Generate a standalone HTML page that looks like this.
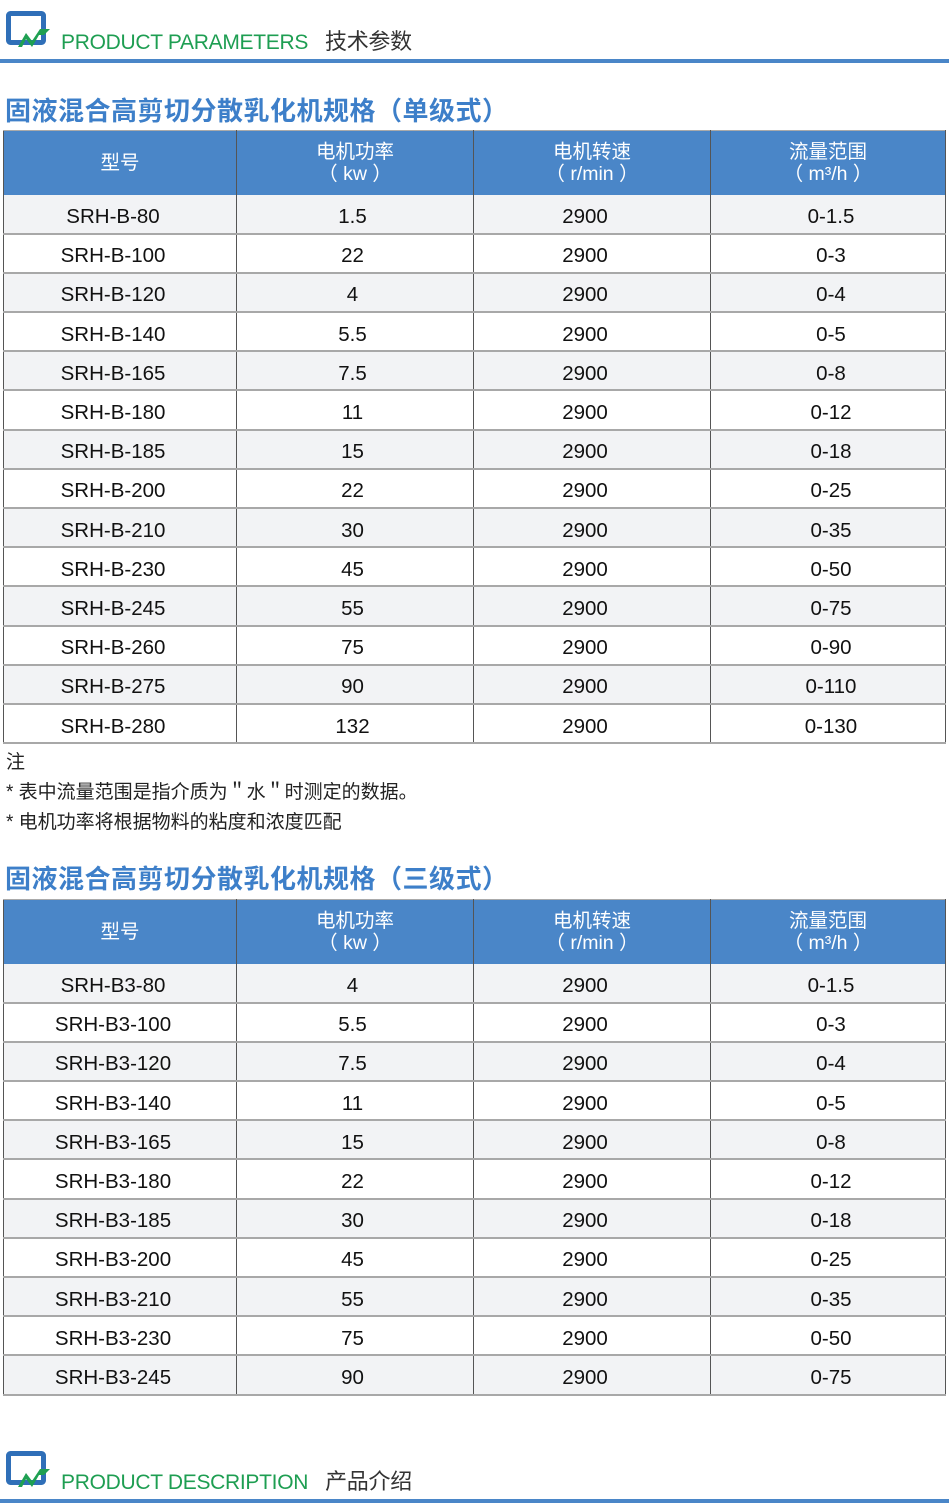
<!DOCTYPE html>
<html><head><meta charset="utf-8"><style>
*{margin:0;padding:0;box-sizing:border-box}
body{width:949px;height:1504px;background:#fff;position:relative;overflow:hidden;font-family:"Liberation Sans","Noto Sans CJK SC",sans-serif;color:#222}
.hd{position:absolute;left:0;width:949px}
.hd .txt{position:absolute;left:61px;font-size:21px;color:#1e9e52;white-space:nowrap;letter-spacing:-0.3px}
.hd .txt span{color:#333;margin-left:17px;font-size:22px}
.hd .line{position:absolute;left:0;width:949px;height:4px;background:#4a86c8}
.title{position:absolute;left:5px;font-size:26px;font-weight:bold;color:#3d7fc9;white-space:nowrap;letter-spacing:0.5px}
table{position:absolute;left:3px;width:942px;border-collapse:collapse;table-layout:fixed}
td,th{text-align:center;font-size:20.5px;border-left:1px solid #555;border-right:1px solid #555}
th{background:#4a86c8;color:#fff;font-weight:normal;font-size:19.5px;line-height:22px;height:64px;border-top:1px solid #aaa}
td{height:39.2px;border-bottom:2px solid #a8a8a8;color:#111;padding-top:6px}
td:first-child{padding-right:14px}
td:nth-child(2){padding-right:5px}
td:nth-child(3){padding-right:14px}
td:nth-child(4){padding-left:6px}
tr:nth-child(even) td{background:#f2f3f5}
.note{position:absolute;left:6px;font-size:19px;line-height:30px;color:#222}
</style></head><body>
<svg style="position:absolute;left:6px;top:11px" width="44" height="38" viewBox="0 0 44 38"><rect x="2.5" y="2.5" width="35" height="29" rx="2" fill="none" stroke="#2f6fb8" stroke-width="5"/><path d="M12 36 L20 22 L26 30 L34 18 L44 18 L38 24 L33 24 L26 36 L20 28 L16 36Z" fill="#1fa052"/></svg>
<div class="hd" style="top:0"><div class="txt" style="top:24px">PRODUCT PARAMETERS<span>技术参数</span></div><div class="line" style="top:59px"></div></div>
<div class="title" style="top:91px">固液混合高剪切分散乳化机规格（单级式）</div>
<table style="top:130px">
<colgroup><col style="width:233px"><col style="width:237px"><col style="width:237px"><col style="width:235px"></colgroup>
<tr><th>型号</th><th>电机功率<br>（ kw ）</th><th>电机转速<br>（ r/min ）</th><th>流量范围<br>（ m³/h ）</th></tr>
<tr><td>SRH-B-80</td><td>1.5</td><td>2900</td><td>0-1.5</td></tr>
<tr><td>SRH-B-100</td><td>22</td><td>2900</td><td>0-3</td></tr>
<tr><td>SRH-B-120</td><td>4</td><td>2900</td><td>0-4</td></tr>
<tr><td>SRH-B-140</td><td>5.5</td><td>2900</td><td>0-5</td></tr>
<tr><td>SRH-B-165</td><td>7.5</td><td>2900</td><td>0-8</td></tr>
<tr><td>SRH-B-180</td><td>11</td><td>2900</td><td>0-12</td></tr>
<tr><td>SRH-B-185</td><td>15</td><td>2900</td><td>0-18</td></tr>
<tr><td>SRH-B-200</td><td>22</td><td>2900</td><td>0-25</td></tr>
<tr><td>SRH-B-210</td><td>30</td><td>2900</td><td>0-35</td></tr>
<tr><td>SRH-B-230</td><td>45</td><td>2900</td><td>0-50</td></tr>
<tr><td>SRH-B-245</td><td>55</td><td>2900</td><td>0-75</td></tr>
<tr><td>SRH-B-260</td><td>75</td><td>2900</td><td>0-90</td></tr>
<tr><td>SRH-B-275</td><td>90</td><td>2900</td><td>0-110</td></tr>
<tr><td>SRH-B-280</td><td>132</td><td>2900</td><td>0-130</td></tr>
</table>
<div class="note" style="top:748px">注<br>* 表中流量范围是指介质为＂水＂时测定的数据。<br>* 电机功率将根据物料的粘度和浓度匹配</div>
<div class="title" style="top:859px">固液混合高剪切分散乳化机规格（三级式）</div>
<table style="top:899px">
<colgroup><col style="width:233px"><col style="width:237px"><col style="width:237px"><col style="width:235px"></colgroup>
<tr><th>型号</th><th>电机功率<br>（ kw ）</th><th>电机转速<br>（ r/min ）</th><th>流量范围<br>（ m³/h ）</th></tr>
<tr><td>SRH-B3-80</td><td>4</td><td>2900</td><td>0-1.5</td></tr>
<tr><td>SRH-B3-100</td><td>5.5</td><td>2900</td><td>0-3</td></tr>
<tr><td>SRH-B3-120</td><td>7.5</td><td>2900</td><td>0-4</td></tr>
<tr><td>SRH-B3-140</td><td>11</td><td>2900</td><td>0-5</td></tr>
<tr><td>SRH-B3-165</td><td>15</td><td>2900</td><td>0-8</td></tr>
<tr><td>SRH-B3-180</td><td>22</td><td>2900</td><td>0-12</td></tr>
<tr><td>SRH-B3-185</td><td>30</td><td>2900</td><td>0-18</td></tr>
<tr><td>SRH-B3-200</td><td>45</td><td>2900</td><td>0-25</td></tr>
<tr><td>SRH-B3-210</td><td>55</td><td>2900</td><td>0-35</td></tr>
<tr><td>SRH-B3-230</td><td>75</td><td>2900</td><td>0-50</td></tr>
<tr><td>SRH-B3-245</td><td>90</td><td>2900</td><td>0-75</td></tr>
</table>
<svg style="position:absolute;left:6px;top:1451px" width="44" height="38" viewBox="0 0 44 38"><rect x="2.5" y="2.5" width="35" height="29" rx="2" fill="none" stroke="#2f6fb8" stroke-width="5"/><path d="M12 36 L20 22 L26 30 L34 18 L44 18 L38 24 L33 24 L26 36 L20 28 L16 36Z" fill="#1fa052"/></svg>
<div class="hd" style="top:1440px"><div class="txt" style="top:24px">PRODUCT DESCRIPTION<span>产品介绍</span></div><div class="line" style="top:59px"></div></div>
</body></html>
